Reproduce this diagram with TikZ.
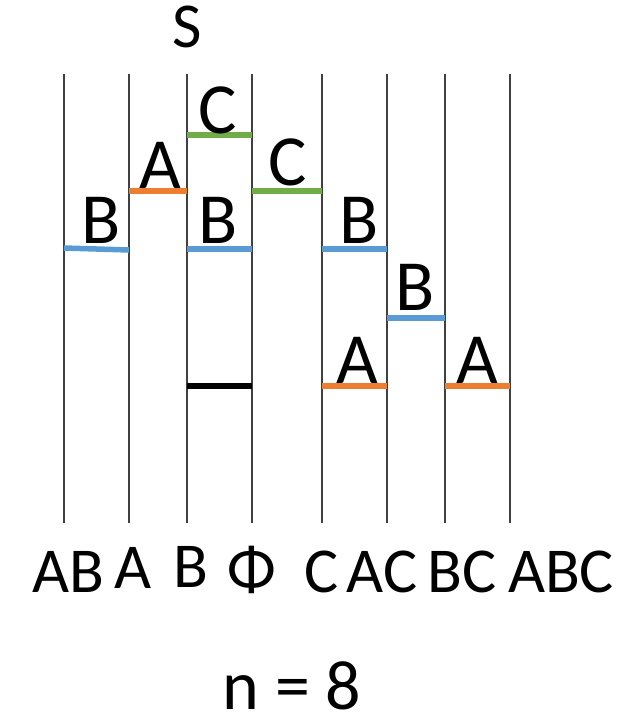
\documentclass[tikz,border=0pt]{standalone}
\usepackage{fontspec}
\setmainfont{Carlito}
\definecolor{cblue}{HTML}{5B9BD5}
\definecolor{corange}{HTML}{ED7D31}
\definecolor{cgreen}{HTML}{70AD47}
\definecolor{cgrid}{HTML}{404040}
\begin{document}
\begin{tikzpicture}[x=1pt,y=-1pt,
  grid/.style={draw=cgrid,line width=1.1pt},
  seg/.style={line width=5.5pt},
  lbl/.style={anchor=base,inner sep=0pt,font=\fontsize{72}{72}\selectfont},
  axl/.style={anchor=base,inner sep=0pt,font=\fontsize{64}{64}\selectfont}]
\useasboundingbox (0,0) rectangle (638,713);
\foreach \x [count=\i] in {64,129,187,252,322,387,445,510}{
  \coordinate (t\i) at (\x,74);
  \coordinate (b\i) at (\x,523);
  \draw[grid] (t\i) -- (b\i);
}
% segments
\draw[seg,cblue] (64,248) -- (129,250);
\draw[seg,cblue] (187,249) -- (252,249);
\draw[seg,cblue] (322,249) -- (387,249);
\draw[seg,cblue] (387,318) -- (445,318);
\draw[seg,corange] (129,191) -- (187,191);
\draw[seg,corange] (322,386) -- (387,386);
\draw[seg,corange] (445,386) -- (510,386);
\draw[seg,cgreen] (187,135) -- (252,135);
\draw[seg,cgreen] (252,191) -- (322,191);
\draw[seg,black] (187,386) -- (252,386);
% segment labels
\node[lbl] (l1) at (101,243) {B};
\node[lbl] (l2) at (160,188) {A};
\node[lbl] (l3) at (218,133) {C};
\node[lbl] (l4) at (218,243) {B};
\node[lbl] (l5) at (288,185) {C};
\node[lbl] (l6) at (359,243) {B};
\node[lbl] (l7) at (415,310) {B};
\node[lbl] (l8) at (357,383) {A};
\node[lbl] (l9) at (477,383) {A};
% title
\node[axl] (S) at (187,47) {S};
% bottom labels
\node[axl] (x1) at (68,592) {AB};
\node[axl] (x2) at (133,588) {A};
\node[axl] (x3) at (191,587) {B};
\node[axl] (x4) at (252,590) {Φ};
\node[axl] (x5) at (322,592) {C};
\node[axl] (x6) at (382,592) {AC};
\node[axl] (x7) at (462,592) {BC};
\node[axl] (x8) at (561,592) {ABC};
\node[lbl,font=\fontsize{70}{70}\selectfont] (n) at (292,709) {n = 8};
\end{tikzpicture}
\end{document}
